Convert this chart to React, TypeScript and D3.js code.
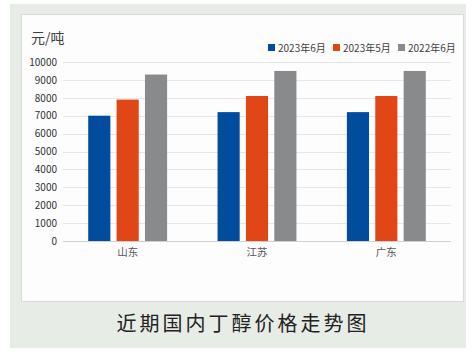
import React, { useRef, useEffect } from "react";
import * as d3 from "d3";

const regions = ["山东", "江苏", "广东"];
const seriesNames = ["2023年6月", "2023年5月", "2022年6月"];
const jun2023 = [7000, 7200, 7200];
const may2023 = [7900, 8100, 8100];
const jun2022 = [9300, 9500, 9500];
const yTicks = [0, 1000, 2000, 3000, 4000, 5000, 6000, 7000, 8000, 9000, 10000];
const colors = ["#024c9d", "#e14716", "#888a8c"];

const App = () => {
  const ref = useRef<SVGSVGElement>(null);

  useEffect(() => {
    const svg = d3.select(ref.current);
    svg.selectAll("*").remove();

    const width = 476;
    const height = 352;
    const font = "'Noto Sans CJK SC', 'Noto Sans', sans-serif";
    const values = [jun2023, may2023, jun2022];

    // backgrounds
    svg.append("rect").attr("width", width).attr("height", height).attr("fill", "#fff");
    svg.append("rect").attr("x", 10).attr("y", 4).attr("width", 456).attr("height", 344).attr("fill", "#e8ece6");
    svg
      .append("rect")
      .attr("x", 21.5)
      .attr("y", 14.5)
      .attr("width", 442)
      .attr("height", 287)
      .attr("fill", "#fdfdfd")
      .attr("stroke", "#d8dcd6");

    const x = d3.scaleBand().domain(regions).range([63, 451]).paddingInner(0.39).paddingOuter(0.195);
    const x1 = d3.scaleBand().domain(seriesNames).range([0, x.bandwidth()]).paddingInner(0.22);
    const y = d3.scaleLinear().domain([0, 10000]).range([241, 62]);

    // grid
    svg
      .append("g")
      .selectAll("line")
      .data(yTicks)
      .join("line")
      .attr("x1", 63)
      .attr("x2", 451)
      .attr("y1", (d) => Math.round(y(d)) + 0.5)
      .attr("y2", (d) => Math.round(y(d)) + 0.5)
      .attr("stroke", (d) => (d === 0 ? "#d0d0d0" : "#e6e6e6"));

    const yAxis = svg
      .append("g")
      .attr("transform", "translate(60,0)")
      .call(d3.axisLeft(y).tickValues(yTicks).tickSize(0).tickPadding(3).tickFormat(d3.format("d")));
    yAxis.select(".domain").remove();
    yAxis.selectAll("text").attr("font-family", font).attr("font-size", 10).attr("fill", "#333");

    // bars
    svg
      .append("g")
      .selectAll("g")
      .data(values)
      .join("g")
      .attr("fill", (_, i) => colors[i])
      .selectAll("rect")
      .data((vals, si) => vals.map((v, ci) => ({ v, ci, si })))
      .join("rect")
      .attr("x", (d) => x(regions[d.ci]) + x1(seriesNames[d.si]))
      .attr("y", (d) => y(d.v))
      .attr("width", x1.bandwidth())
      .attr("height", (d) => y(0) - y(d.v));

    const xAxis = svg
      .append("g")
      .attr("transform", "translate(0,241)")
      .call(d3.axisBottom(x).tickSize(0).tickPadding(8));
    xAxis.select(".domain").remove();
    xAxis.selectAll("text").attr("font-family", font).attr("font-size", 10.5).attr("fill", "#555");

    // unit label
    svg
      .append("text")
      .attr("x", 31)
      .attr("y", 43)
      .attr("font-family", font)
      .attr("font-size", 14)
      .attr("fill", "#404040")
      .text("元/吨");

    // legend
    const legendX = [268, 333, 398];
    const legend = svg
      .append("g")
      .selectAll("g")
      .data(seriesNames)
      .join("g")
      .attr("transform", (_, i) => `translate(${legendX[i]},48)`);
    legend
      .append("rect")
      .attr("x", 0)
      .attr("y", -4)
      .attr("width", 7)
      .attr("height", 7)
      .attr("fill", (_, i) => colors[i]);
    legend
      .append("text")
      .attr("x", 10)
      .attr("y", 3.5)
      .attr("font-family", font)
      .attr("font-size", 10)
      .attr("fill", "#404040")
      .text((d) => d);

    // caption
    svg
      .append("text")
      .attr("x", 243)
      .attr("y", 331)
      .attr("text-anchor", "middle")
      .attr("font-family", font)
      .attr("font-size", 20)
      .attr("letter-spacing", 3)
      .attr("fill", "#222")
      .text("近期国内丁醇价格走势图");
  }, []);

  return (
    <svg
      ref={ref}
      width={476}
      height={352}
      style={{ position: "absolute", left: 0, top: 0, display: "block" }}
    ></svg>
  );
};

export default App;
